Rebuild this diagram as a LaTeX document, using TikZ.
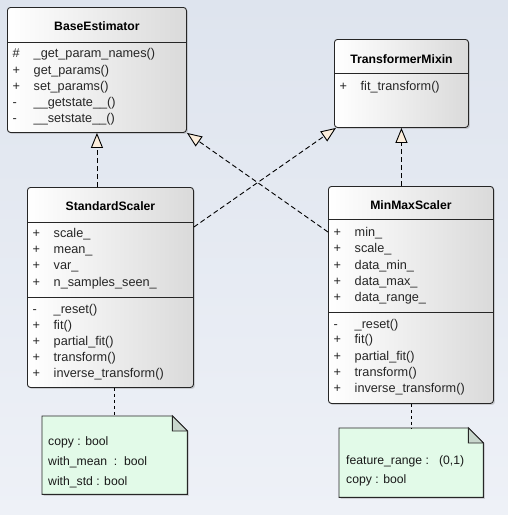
\documentclass[tikz,border=0pt]{standalone}
\usepackage{fontspec}
\setmainfont{Liberation Sans}
\usetikzlibrary{arrows.meta,shadows,calc,positioning}
\definecolor{bgTop}{HTML}{DEE4EE}
\definecolor{bgBottom}{HTML}{EEF1F7}
\definecolor{boxShade}{HTML}{DADADA}
\definecolor{noteFill}{HTML}{E2FAE8}
\definecolor{foldFill}{HTML}{C8D6CC}
\definecolor{tipFill}{HTML}{FCEEDC}
\newcommand{\mbr}[2]{\makebox[21pt][l]{#1}#2}
\begin{document}
\begin{tikzpicture}
[x=1pt,y=-1pt,
  classDecorate/.style={shape=rectangle,anchor=north west,rounded corners=3pt,draw=black!85,
    line width=0.9pt,left color=white,right color=boxShade,
    drop shadow={shadow xshift=1.5pt,shadow yshift=-1.5pt,opacity=0.3}},
  titleDecorate/.style={font=\fontsize{12.2}{14}\selectfont\bfseries,inner sep=0pt},
  rowDecorate/.style={font=\fontsize{12.7}{14}\selectfont,inner sep=0pt,anchor=west,text=black!85},
  lineDecorate/.style={line width=0.9pt,draw=black!85},
  noteDecorate/.style={fill=noteFill,draw=black!85,line width=0.9pt,
    drop shadow={shadow xshift=1.5pt,shadow yshift=-1.5pt,opacity=0.3}},
  noteText/.style={font=\fontsize{12.2}{14}\selectfont,inner sep=0pt,anchor=west,text=black!90},
  genDecorate/.style={dash pattern=on 5pt off 3pt,line width=0.9pt,
    -{Triangle[length=15pt,width=12pt,fill=tipFill]}},
  noteLink/.style={dash pattern=on 3pt off 3pt,line width=0.9pt}]
\useasboundingbox (0,0) rectangle (508,515);
\fill[top color=bgTop,bottom color=bgBottom] (0,0) rectangle (508,515);
%% classes
\foreach \name/\x/\y/\w/\h in {
  be/7/7/179/125, tm/334/39/134/88, ss/27/187/166/200, mm/328/186/165/217}
{
  \node[classDecorate,minimum width=\w,minimum height=\h] (\name) at (\x,\y) {};
}
\node[titleDecorate] (beTitle) at ($(be.north)+(0,19)$) {BaseEstimator};
\node[titleDecorate] (tmTitle) at ($(tm.north)+(0,20)$) {TransformerMixin};
\node[titleDecorate] (ssTitle) at ($(ss.north)+(0,19)$) {StandardScaler};
\node[titleDecorate] (mmTitle) at ($(mm.north)+(0,19)$) {MinMaxScaler};
%% compartments
\foreach \name/\y in {be/42, tm/73, ss/222, ss/297, mm/219, mm/312}
{
  \draw[lineDecorate] (\name.west |- 0,\y) -- (\name.east |- 0,\y);
}
%% members
\foreach \name/\y/\vis/\txt in {
  be/54/\#/\_get\_param\_names(), be/71/+/get\_params(), be/87/+/set\_params(),
  be/103/-/\_\_getstate\_\_(), be/119/-/\_\_setstate\_\_(),
  tm/87/+/fit\_transform(),
  ss/234/+/scale\_, ss/251/+/mean\_, ss/267/+/var\_, ss/283/+/n\_samples\_seen\_,
  ss/310/-/\_reset(), ss/326/+/fit(), ss/342/+/partial\_fit(),
  ss/358/+/transform(), ss/374/+/inverse\_transform(),
  mm/233/+/min\_, mm/249/+/scale\_, mm/266/+/data\_min\_, mm/282/+/data\_max\_,
  mm/298/+/data\_range\_,
  mm/325/-/\_reset(), mm/340/+/fit(), mm/357/+/partial\_fit(),
  mm/373/+/transform(), mm/389/+/inverse\_transform()}
{
  \node[rowDecorate] (\name-\y) at ($(\name.west |- 0,\y)+(5.5,0)$) {\mbr{\vis}{\txt}};
}
%% notes
\node[minimum width=145,minimum height=78,anchor=north west,inner sep=0pt] (ssNote) at (42,416) {};
\node[minimum width=144,minimum height=69,anchor=north west,inner sep=0pt] (mmNote) at (339,428) {};
\foreach \note in {ssNote, mmNote}
{
  \draw[noteDecorate] (\note.north west) -- ($(\note.north east)+(-15,0)$)
    -- ($(\note.north east)+(0,15)$) -- (\note.south east) -- (\note.south west) -- cycle;
  \draw[fill=foldFill,draw=black!85,line width=0.9pt] ($(\note.north east)+(-15,0)$)
    -- ($(\note.north east)+(-15,15)$) -- ($(\note.north east)+(0,15)$) -- cycle;
}
\node[noteText] (ssNote-1) at (48,442) {copy : bool};
\node[noteText] (ssNote-2) at (48,462) {with\_mean\ \ :\ \ bool};
\node[noteText] (ssNote-3) at (48,482) {with\_std : bool};
\node[noteText] (mmNote-1) at (346,461) {feature\_range\ :\ \ \ (0,1)};
\node[noteText] (mmNote-2) at (346,480) {copy : bool};
%% realizations
\draw[genDecorate] (ss.north -| be.south) -- (be.south);
\draw[genDecorate] (mm.north -| tm.south) -- (tm.south);
\draw[genDecorate] ($(ss.north east)+(0,40)$) -- ($(tm.south west)+(2,0)$);
\draw[genDecorate] ($(mm.north west)+(0,46)$) -- (be.south east);
%% note links
\draw[noteLink] (ss.south -| ssNote.north) -- (ssNote.north);
\draw[noteLink] (mm.south -| mmNote.north) -- (mmNote.north);
\end{tikzpicture}
\end{document}
